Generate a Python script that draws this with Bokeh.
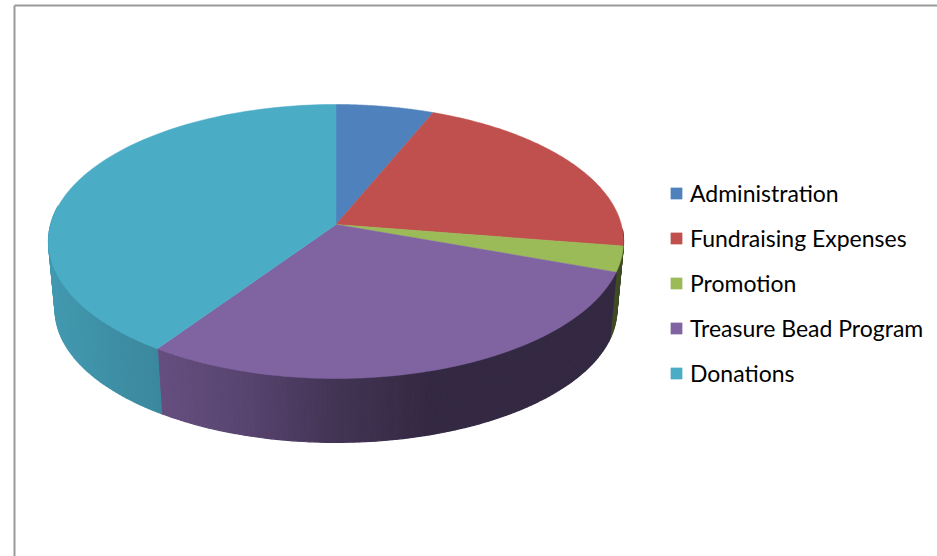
import numpy as np
from bokeh.plotting import figure
from bokeh.models import Legend, LegendItem, Range1d
from bokeh.embed import file_html
from bokeh.resources import INLINE

categories = ["Administration", "Fundraising Expenses", "Promotion", "Treasure Bead Program", "Donations"]
shares = [6.2, 21.3, 3.0, 29.0, 40.5]
colors = ["#4f81bd", "#c0504d", "#9bbb59", "#8064a2", "#4bacc6"]

W, H = 937, 556
CX, CY, R, A, K = 335.5, 224.0, 285.3, 134.9, 0.124
DROP_Y, RING_X, RING_Y = 68.5, 0.977, 0.97

def rim(t):
    t = np.radians(t)
    u, v = np.sin(t), -np.cos(t)
    s = 1 / (1 - K * v)
    return CX + R * u * s, CY + A * v * s

def lower(x, y):
    return CX + (x - CX) * RING_X, CY + DROP_Y + (y - CY) * RING_Y

def shade_at(x):
    return np.interp(x, [50, 160, 250, 330, 430, 640], [0.89, 0.79, 0.68, 0.53, 0.41, 0.41])

def tint(c, f):
    r, g, b = (int(c[i:i + 2], 16) for i in (1, 3, 5))
    return "#%02x%02x%02x" % (int(r * f), int(g * f), int(b * f))

p = figure(width=W, height=H, output_backend="svg", toolbar_location=None,
           x_range=Range1d(0, W), y_range=Range1d(H, 0), min_border=0,
           background_fill_color="white", border_fill_color="white")
p.axis.visible = False
p.grid.visible = False
p.outline_line_color = None

# chart frame (only top and left edges are visible in the picture)
p.segment(x0=[14, 14], y0=[5, 5], x1=[W, 14], y1=[5, H], line_color="#9a9a9a", line_width=2)

edges = np.cumsum([0] + shares) / sum(shares) * 360
xs, ys, fills = [], [], []
for i, c in enumerate(colors):
    a, b = max(edges[i], 92), min(edges[i + 1], 278)
    if b <= a:
        continue
    ts = np.arange(a, b + 1e-6, 1.0)
    ts = np.append(ts, b) if ts[-1] < b else ts
    for t0, t1 in zip(ts[:-1], ts[1:]):
        x0, y0 = rim(t0)
        x1, y1 = rim(t1)
        lx0, ly0 = lower(x0, y0)
        lx1, ly1 = lower(x1, y1)
        xs.append([x0, x1, lx1, lx0])
        ys.append([y0, y1, ly1, ly0])
        fills.append(tint(c, float(shade_at((x0 + x1) / 2))))
p.patches(xs, ys, fill_color=fills, line_color=fills, line_width=1.2)

items = []
for i, (name, c) in enumerate(zip(categories, colors)):
    ts = np.linspace(edges[i], edges[i + 1], 100)
    x, y = rim(ts)
    r = p.patch(np.r_[CX, x], np.r_[CY, y], fill_color=c, line_color=c, line_width=0.5)
    items.append(LegendItem(label=name, renderers=[r]))

legend = Legend(items=items, location=(669, H - 387), orientation="vertical",
                glyph_width=14, glyph_height=14, label_standoff=7, label_height=22,
                spacing=17, padding=0, margin=0, border_line_color=None,
                background_fill_alpha=0, label_text_font="Lato",
                label_text_font_size="23px", label_text_color="#000000")
p.add_layout(legend, "center")

open("out.html", "w").write(file_html(p, INLINE))
